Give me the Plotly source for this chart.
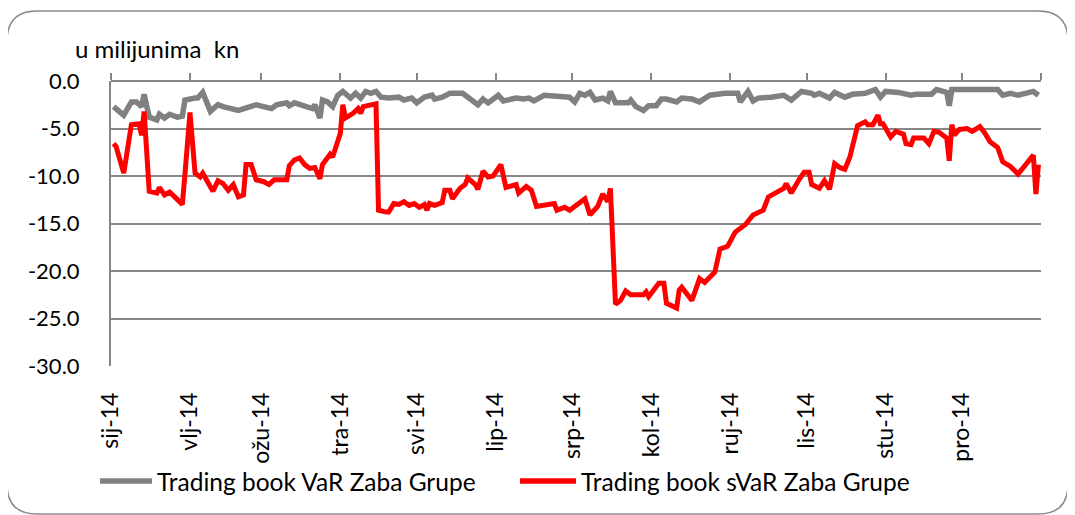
import plotly.graph_objects as go

# ---------------- data ----------------
var_dates = ["2014-01-02","2014-01-04","2014-01-06","2014-01-09","2014-01-11","2014-01-13","2014-01-14","2014-01-16",
             "2014-01-19","2014-01-20","2014-01-22","2014-01-24","2014-01-27","2014-01-29","2014-01-30","2014-02-03",
             "2014-02-04","2014-02-06","2014-02-09","2014-02-12","2014-02-14","2014-02-20","2014-02-23","2014-02-27",
             "2014-03-05","2014-03-07","2014-03-11","2014-03-12","2014-03-14","2014-03-18","2014-03-21","2014-03-22",
             "2014-03-24","2014-03-25","2014-03-27","2014-03-29","2014-03-31","2014-04-02","2014-04-05","2014-04-07",
             "2014-04-09","2014-04-11","2014-04-13","2014-04-15","2014-04-17","2014-04-20","2014-04-24","2014-04-26",
             "2014-04-29","2014-05-01","2014-05-04","2014-05-07","2014-05-08","2014-05-11","2014-05-14","2014-05-19",
             "2014-05-21","2014-05-23","2014-05-25","2014-05-27","2014-05-29","2014-06-02","2014-06-04","2014-06-09",
             "2014-06-12","2014-06-14","2014-06-16","2014-06-20","2014-06-30","2014-07-02","2014-07-04","2014-07-06",
             "2014-07-08","2014-07-10","2014-07-13","2014-07-15","2014-07-16","2014-07-18","2014-07-23","2014-07-24",
             "2014-07-26","2014-07-29","2014-07-31","2014-08-03","2014-08-05","2014-08-07","2014-08-11","2014-08-13",
             "2014-08-17","2014-08-20","2014-08-24","2014-08-30","2014-09-04","2014-09-05","2014-09-08","2014-09-10",
             "2014-09-12","2014-09-17","2014-09-22","2014-09-25","2014-09-29","2014-10-03","2014-10-04","2014-10-06",
             "2014-10-10","2014-10-12","2014-10-15","2014-10-16","2014-10-19","2014-10-24","2014-10-28","2014-10-30",
             "2014-11-01","2014-11-06","2014-11-11","2014-11-13","2014-11-19","2014-11-21","2014-11-25","2014-11-26",
             "2014-11-27","2014-12-15","2014-12-17","2014-12-20","2014-12-23","2014-12-29","2014-12-31"]
var_values = [-2.7,-3.1,-3.6,-2.2,-2.2,-2.7,-1.4,-3.8,
              -4.1,-3.5,-3.9,-3.5,-3.8,-3.7,-2.0,-1.8,
              -1.8,-1.2,-3.2,-2.5,-2.7,-3.1,-2.8,-2.5,
              -2.9,-2.5,-2.3,-2.6,-2.3,-2.7,-2.9,-2.5,
              -3.9,-2.0,-2.2,-2.7,-1.5,-1.1,-1.8,-1.3,
              -1.8,-1.1,-1.3,-1.1,-1.7,-1.8,-1.7,-2.0,
              -1.8,-2.3,-1.7,-1.5,-1.9,-1.7,-1.3,-1.3,
              -1.7,-2.2,-2.5,-1.9,-2.3,-1.5,-2.1,-1.8,
              -1.9,-1.8,-2.1,-1.5,-1.7,-2.2,-1.3,-1.5,
              -1.2,-2.0,-1.8,-2.1,-1.1,-2.3,-2.3,-2.0,
              -2.7,-3.1,-2.6,-2.6,-1.9,-1.9,-2.2,-1.8,
              -1.9,-2.2,-1.5,-1.3,-1.3,-2.2,-1.1,-2.1,
              -1.8,-1.7,-1.5,-2.0,-1.1,-1.3,-1.5,-1.3,
              -1.8,-1.2,-1.5,-1.7,-1.4,-1.3,-0.9,-1.7,
              -1.1,-1.2,-1.5,-1.4,-1.4,-0.9,-1.2,-2.6,
              -0.9,-0.9,-1.5,-1.3,-1.5,-1.1,-1.5]

svar_dates = ["2014-01-02","2014-01-03","2014-01-06","2014-01-09","2014-01-12","2014-01-13","2014-01-14","2014-01-16",
              "2014-01-19","2014-01-20","2014-01-22","2014-01-24","2014-01-26","2014-01-29","2014-01-30","2014-02-01",
              "2014-02-03","2014-02-05","2014-02-06","2014-02-10","2014-02-12","2014-02-14","2014-02-16","2014-02-18",
              "2014-02-20","2014-02-22","2014-02-23","2014-02-25","2014-02-27","2014-03-02","2014-03-04","2014-03-06",
              "2014-03-11","2014-03-12","2014-03-14","2014-03-16","2014-03-18","2014-03-20","2014-03-22","2014-03-24",
              "2014-03-25","2014-03-28","2014-03-29","2014-03-31","2014-04-01","2014-04-02","2014-04-03","2014-04-06",
              "2014-04-08","2014-04-09","2014-04-10","2014-04-15","2014-04-16","2014-04-19","2014-04-20","2014-04-22",
              "2014-04-24","2014-04-26","2014-04-28","2014-04-30","2014-05-02","2014-05-04","2014-05-05","2014-05-06",
              "2014-05-08","2014-05-11","2014-05-12","2014-05-14","2014-05-15","2014-05-18","2014-05-20","2014-05-21",
              "2014-05-24","2014-05-25","2014-05-27","2014-05-29","2014-05-31","2014-06-03","2014-06-05","2014-06-09",
              "2014-06-10","2014-06-13","2014-06-15","2014-06-17","2014-06-24","2014-06-25","2014-06-28","2014-06-30",
              "2014-07-04","2014-07-06","2014-07-08","2014-07-11","2014-07-13","2014-07-15","2014-07-16","2014-07-18",
              "2014-07-20","2014-07-22","2014-07-24","2014-07-29","2014-07-30","2014-07-31","2014-08-04","2014-08-06",
              "2014-08-07","2014-08-11","2014-08-12","2014-08-13","2014-08-17","2014-08-20","2014-08-22","2014-08-26",
              "2014-08-28","2014-08-31","2014-09-03","2014-09-07","2014-09-10","2014-09-14","2014-09-16","2014-09-22",
              "2014-09-23","2014-09-25","2014-09-28","2014-09-30","2014-10-02","2014-10-03","2014-10-06","2014-10-08",
              "2014-10-10","2014-10-12","2014-10-14","2014-10-16","2014-10-18","2014-10-21","2014-10-24","2014-10-25",
              "2014-10-27","2014-10-29","2014-10-30","2014-10-31","2014-11-03","2014-11-05","2014-11-08","2014-11-09",
              "2014-11-11","2014-11-12","2014-11-16","2014-11-18","2014-11-20","2014-11-22","2014-11-25","2014-11-26",
              "2014-11-27","2014-11-28","2014-11-30","2014-12-03","2014-12-05","2014-12-08","2014-12-10","2014-12-12",
              "2014-12-15","2014-12-17","2014-12-20","2014-12-23","2014-12-29","2014-12-30","2014-12-31"]
svar_values = [-6.6,-6.9,-9.7,-4.6,-4.5,-5.7,-3.2,-11.6,
               -11.8,-11.2,-12.0,-11.7,-12.2,-13.0,-9.9,-3.3,
               -9.7,-10.1,-9.7,-11.6,-10.5,-10.8,-11.5,-10.9,
               -12.2,-12.0,-8.8,-8.8,-10.4,-10.6,-10.9,-10.4,
               -10.4,-8.9,-8.3,-8.1,-8.8,-9.2,-9.1,-10.3,
               -8.8,-7.7,-8.0,-6.4,-5.5,-2.5,-3.9,-3.4,
               -2.9,-3.4,-2.7,-2.4,-13.6,-13.8,-13.8,-12.9,
               -13.0,-12.7,-13.1,-12.9,-13.3,-13.0,-13.6,-12.9,
               -13.1,-12.8,-11.5,-11.5,-12.4,-11.3,-10.9,-10.2,
               -10.9,-11.4,-9.5,-10.1,-10.0,-8.8,-11.2,-10.9,
               -11.8,-11.1,-11.5,-13.2,-12.9,-13.6,-13.3,-13.6,
               -12.9,-12.4,-14.1,-13.2,-11.9,-12.7,-11.3,-23.5,
               -23.1,-22.1,-22.5,-22.5,-22.2,-22.7,-21.3,-21.3,
               -23.4,-23.9,-22.0,-21.7,-23.1,-20.8,-21.2,-20.1,
               -17.7,-17.4,-15.9,-15.1,-14.1,-13.6,-12.2,-11.3,
               -10.8,-11.8,-10.4,-9.6,-9.6,-10.9,-11.3,-10.5,
               -11.4,-8.7,-9.1,-9.3,-8.0,-4.7,-4.3,-4.6,
               -4.6,-3.6,-4.5,-4.5,-5.9,-5.3,-5.6,-6.6,
               -6.7,-6.0,-6.0,-6.6,-5.3,-5.4,-6.0,-8.4,
               -4.6,-5.7,-5.1,-5.0,-5.3,-4.8,-5.5,-6.4,
               -7.0,-8.5,-9.0,-9.8,-7.8,-11.9,-8.8]

month_ticks = ["2014-01-01","2014-02-01","2014-03-01","2014-04-01","2014-05-01","2014-06-01",
               "2014-07-01","2014-08-01","2014-09-01","2014-10-01","2014-11-01","2014-12-01"]
month_labels = ["sij-14","vlj-14","ožu-14","tra-14","svi-14","lip-14",
                "srp-14","kol-14","ruj-14","lis-14","stu-14","pro-14"]
y_ticks = [0, -5, -10, -15, -20, -25, -30]
y_labels = ["0.0", "-5.0", "-10.0", "-15.0", "-20.0", "-25.0", "-30.0"]

series_names = ["Trading book VaR Zaba Grupe", "Trading book sVaR Zaba Grupe"]
unit_label = "u milijunima  kn"

# ---------------- layout geometry (screen pixels; page body has an 8px margin) ----------------
OFF = 8
W, H = 1075 - OFF, 515 - OFF
SL, SR, ST, SB = 111, 1041, 81, 366       # plot area on screen
FONT = "Lato"
GRID = "#878787"

def px(x):
    return (x - SL) / (SR - SL)

def py(y):
    return (SB - y) / (SB - ST)

fig = go.Figure()
fig.add_trace(go.Scatter(x=var_dates, y=var_values, mode="lines", name=series_names[0],
                         line=dict(color="#808080", width=5.5), showlegend=False))
fig.add_trace(go.Scatter(x=svar_dates, y=svar_values, mode="lines", name=series_names[1],
                         line=dict(color="#FF0000", width=5), showlegend=False))
# invisible trace to drive the top axis carrying the tick marks
fig.add_trace(go.Scatter(x=[month_ticks[0]], y=[0], xaxis="x2", mode="markers",
                         marker=dict(opacity=0), showlegend=False, hoverinfo="skip"))

xr = ["2014-01-01", "2015-01-01"]
fig.update_layout(
    width=W, height=H,
    margin=dict(l=SL - OFF, r=W - (SR - OFF), t=ST - OFF, b=H - (SB - OFF)),
    paper_bgcolor="white", plot_bgcolor="white",
    font=dict(family=FONT, size=20, color="black"),
    xaxis=dict(type="date", range=xr, tickvals=month_ticks, ticktext=month_labels,
               tickangle=-90, ticks="", showgrid=False, showline=False, zeroline=False,
               ticklabelstandoff=21, tickfont=dict(family=FONT, size=23)),
    xaxis2=dict(type="date", range=xr, overlaying="x", side="top",
                tickvals=month_ticks + ["2015-01-01"], ticks="outside", ticklen=7, tickwidth=2,
                tickcolor=GRID, showticklabels=False, showgrid=False, showline=False, zeroline=False),
    yaxis=dict(range=[-30, 0], tickvals=y_ticks, ticktext=y_labels, showgrid=True, gridcolor=GRID,
               gridwidth=2, zeroline=True, zerolinecolor=GRID, zerolinewidth=2,
               showline=True, linecolor=GRID, linewidth=2, ticks="", ticklabelstandoff=25,
               tickfont=dict(family=FONT, size=22)),
    showlegend=False,
)

# unit label
fig.add_annotation(text=unit_label, xref="paper", yref="paper", x=px(73), y=py(48),
                   xanchor="left", yanchor="middle", showarrow=False,
                   font=dict(family=FONT, size=24, color="black"))

# custom legend
leg_y = py(481)
fig.add_shape(type="line", xref="paper", yref="paper", x0=px(100), x1=px(152), y0=leg_y, y1=leg_y,
              line=dict(color="#808080", width=5.5))
fig.add_annotation(text=series_names[0], xref="paper", yref="paper", x=px(155), y=leg_y,
                   xanchor="left", yanchor="middle", showarrow=False,
                   font=dict(family=FONT, size=24.5, color="black"))
fig.add_shape(type="line", xref="paper", yref="paper", x0=px(520), x1=px(576), y0=leg_y, y1=leg_y,
              line=dict(color="#FF0000", width=5.5))
fig.add_annotation(text=series_names[1], xref="paper", yref="paper", x=px(579), y=leg_y,
                   xanchor="left", yanchor="middle", showarrow=False,
                   font=dict(family=FONT, size=24.5, color="black"))

# rounded outer border
bx0, by0, bx1, by1, r = 7, 11, 1068, 514, 30
path = (f"M {px(bx0 + r)},{py(by0)} L {px(bx1 - r)},{py(by0)} "
        f"Q {px(bx1)},{py(by0)} {px(bx1)},{py(by0 + r)} L {px(bx1)},{py(by1 - r)} "
        f"Q {px(bx1)},{py(by1)} {px(bx1 - r)},{py(by1)} L {px(bx0 + r)},{py(by1)} "
        f"Q {px(bx0)},{py(by1)} {px(bx0)},{py(by1 - r)} L {px(bx0)},{py(by0 + r)} "
        f"Q {px(bx0)},{py(by0)} {px(bx0 + r)},{py(by0)} Z")
fig.add_shape(type="path", xref="paper", yref="paper", path=path,
              line=dict(color="#8c8c8c", width=1.5), layer="below")

fig.write_html("out.html")
